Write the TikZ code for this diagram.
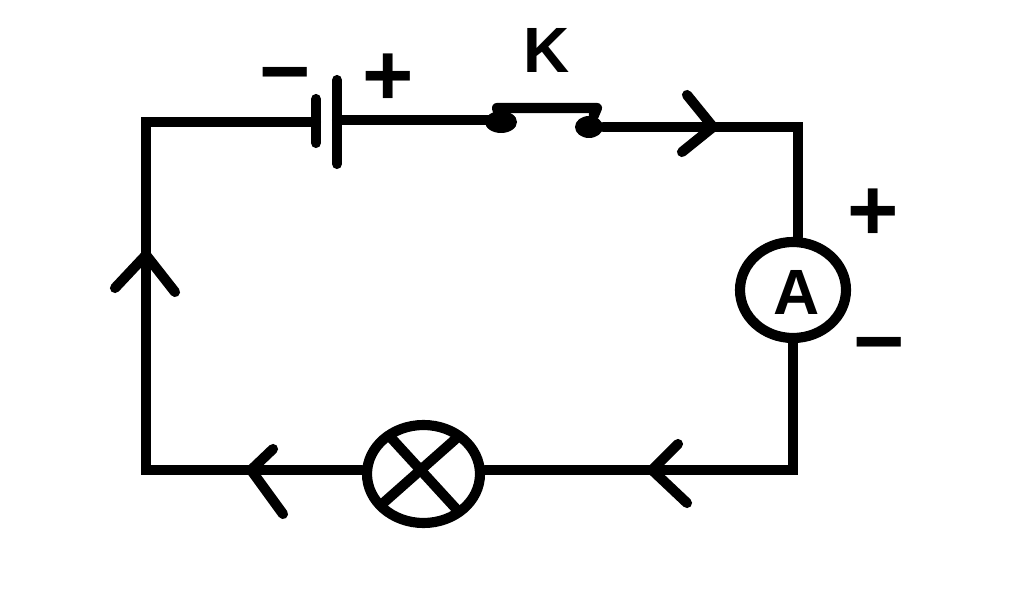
\documentclass[tikz,border=0pt]{standalone}
\usepackage{fontspec}
\setmainfont{Liberation Sans}
\usetikzlibrary{shapes.geometric}
\begin{document}
\begin{tikzpicture}[x=0.75pt,y=-0.75pt,
  wire/.style={line width=7.6pt,line cap=round,line join=miter,black},
  comp/.style={ellipse,draw=black,line width=7.6pt,fill=white,inner sep=0pt},
  contact/.style={ellipse,fill=black,inner sep=0pt,minimum height=16.5pt},
  sym/.style={inner sep=0pt,font=\bfseries\fontsize{66}{66}\selectfont},
  letter/.style={inner sep=0pt,font=\bfseries\fontsize{48}{48}\selectfont}]
\useasboundingbox (0,0) rectangle (1024,609);
\fill[white] (0,0) rectangle (1024,609);
% junction coordinates
\coordinate (tl) at (146,122);
\coordinate (bl) at (146,470);
\coordinate (tr) at (798,127);
\coordinate (br) at (793,470);
\coordinate (batN) at (316,122);
\coordinate (batP) at (337,120);
\coordinate (batNa) at (316,99);
\coordinate (batNb) at (316,143);
\coordinate (batPa) at (337,80);
\coordinate (batPb) at (337,164);
% components
\node[contact,minimum width=24pt] (k1) at (501,122) {};
\node[contact,minimum width=21pt] (k2) at (589,127) {};
\node[comp,minimum width=79.5pt,minimum height=72pt] (amm) at (793,290) {};
\node[comp,minimum width=84.75pt,minimum height=73.5pt] (lamp) at (423.5,474) {};
% wires
\draw[wire] (batN) -- (tl) -- (bl) -- (bl -| lamp.west);
\draw[wire] (bl -| lamp.east) -- (br) -- (br |- amm.south);
\draw[wire] (tr |- amm.north) -- (tr) -- (k2);
\draw[wire] (batP) -- (batP -| k1);
% battery plates
\draw[wire] (batNa) -- (batNb);
\draw[wire] (batPa) -- (batPb);
% switch arm
\coordinate (armL) at (497,108);
\coordinate (armR) at (597,108);
\draw[wire,line join=round] (k1) -- (armL) -- (armR) -- (k2);
% lamp cross
\coordinate (xa) at (388,434.5);
\coordinate (xb) at (459,512);
\coordinate (xc) at (459,436);
\coordinate (xd) at (381,505);
\draw[wire,line cap=butt] (xa) -- (xb);
\draw[wire,line cap=butt] (xc) -- (xd);
% direction marks
\coordinate (aTa) at (687,95);
\coordinate (aTt) at (713,127);
\coordinate (aTb) at (682,152);
\draw[wire,line join=round] (aTa) -- (aTt) -- (aTb);
\coordinate (aLa) at (115,288);
\coordinate (aLt) at (146,255);
\coordinate (aLb) at (175,292);
\draw[wire,line join=round] (aLa) -- (aLt) -- (aLb);
\coordinate (aBa) at (273,449);
\coordinate (aBt) at (251,470);
\coordinate (aBb) at (283,514);
\draw[wire,line join=round] (aBa) -- (aBt) -- (aBb);
\coordinate (aCa) at (678,444);
\coordinate (aCt) at (652,470);
\coordinate (aCb) at (687,503);
\draw[wire,line join=round] (aCa) -- (aCt) -- (aCb);
% labels
\node[sym] (minusB) at (285,84) {−};
\node[sym] (plusB) at (388,80) {+};
\node[letter] (keyK) at (547,50) {K};
\node[sym] (plusA) at (873,215) {+};
\node[sym] (minusA) at (879,354) {−};
\node[letter] (ammA) at (797,292) {A};
\end{tikzpicture}
\end{document}
